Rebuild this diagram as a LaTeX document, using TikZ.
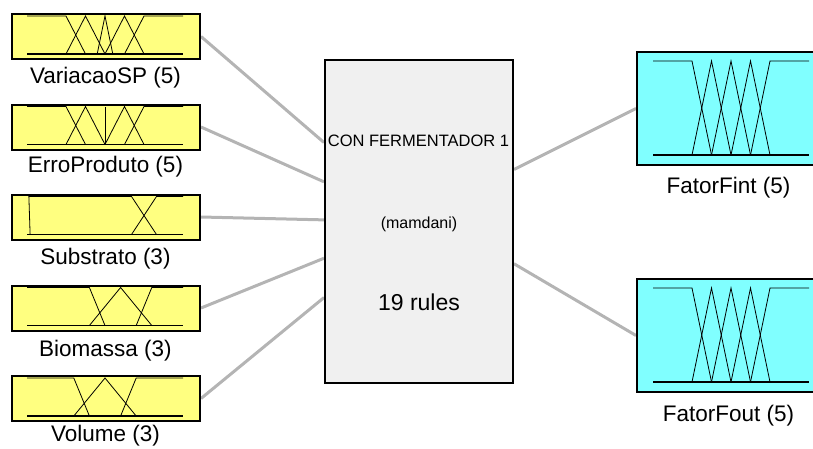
\documentclass[tikz,border=0pt]{standalone}
\usepackage{fontspec}
\setmainfont{Liberation Sans}
\usetikzlibrary{calc,backgrounds}
\definecolor{inyellow}{RGB}{255,255,128}
\definecolor{outcyan}{RGB}{128,255,255}
\definecolor{fisgray}{RGB}{240,240,240}
\definecolor{linkgray}{RGB}{180,180,180}
\tikzset{
  varbox/.style={draw=black, line width=2pt, inner sep=0pt,
                 minimum width=188pt, minimum height=45pt},
  inbox/.style={varbox, fill=inyellow},
  outbox/.style={varbox, fill=outcyan, minimum height=113pt},
  fisbox/.style={draw=black, line width=2pt, fill=fisgray, inner sep=0pt,
                 minimum width=188pt, minimum height=323pt},
  mf/.style={line width=0.8pt},
  mfbase/.style={line width=1.6pt},
  link/.style={draw=linkgray, line width=3pt},
  varlabel/.style={font=\fontsize{22.5}{24}\selectfont, anchor=base, inner sep=0pt},
  fistext/.style={anchor=base, inner sep=0pt},
}
\begin{document}
\begin{tikzpicture}[x=1pt, y=-1pt]
  \useasboundingbox (0,0) rectangle (813,448);
  \clip (0,0) rectangle (813,448);

  % input variables
  \node[inbox] (in1) at (106,36.5) {};
  \node[inbox] (in2) at (106,127) {};
  \node[inbox] (in3) at (106,217) {};
  \node[inbox] (in4) at (106,308) {};
  \node[inbox] (in5) at (106,398.5) {};

  % inference system
  \node[fisbox] (fis) at (419,221.5) {};

  % output variables (the right edge runs past the page)
  \node[outbox] (out1) at (731,108.5) {};
  \node[outbox] (out2) at (731,335.5) {};

  % attachment points on the rule block
  \coordinate (f1) at ($(fis.north west)!0.257!(fis.south west)$);
  \coordinate (f2) at ($(fis.north west)!0.378!(fis.south west)$);
  \coordinate (f3) at ($(fis.north west)!0.495!(fis.south west)$);
  \coordinate (f4) at ($(fis.north west)!0.613!(fis.south west)$);
  \coordinate (f5) at ($(fis.north west)!0.734!(fis.south west)$);
  \coordinate (g1) at ($(fis.north east)!0.34!(fis.south east)$);
  \coordinate (g2) at ($(fis.north east)!0.63!(fis.south east)$);

  \begin{scope}[on background layer]
    \draw[link] (in1.east) -- (f1);
    \draw[link] (in2.east) -- (f2);
    \draw[link] (in3.east) -- (f3);
    \draw[link] (in4.east) -- (f4);
    \draw[link] (in5.east) -- (f5);
    \draw[link] (g1) -- (out1.west);
    \draw[link] (g2) -- (out2.west);
  \end{scope}

  % VariacaoSP membership functions
  \begin{scope}[shift={($(in1.center)+(-79,17.5)$)}, x=156pt, y=38pt]
    \draw[mf] (0,1) -- (0.25,1) -- (0.375,0);
    \draw[mf] (0.25,0) -- (0.375,1) -- (0.5,0);
    \draw[mf] (0.45,0) -- (0.5,1) -- (0.55,0);
    \draw[mf] (0.5,0) -- (0.625,1) -- (0.75,0);
    \draw[mf] (0.625,0) -- (0.75,1) -- (1,1);
    \draw[mfbase] (0,0) -- (1,0);
  \end{scope}

  % ErroProduto membership functions
  \begin{scope}[shift={($(in2.center)+(-79,17.5)$)}, x=156pt, y=38pt]
    \draw[mf] (0,1) -- (0.25,1) -- (0.375,0);
    \draw[mf] (0.25,0) -- (0.375,1) -- (0.5,0);
    \draw[mf] (0.5,0) -- (0.5,1);
    \draw[mf] (0.5,0) -- (0.625,1) -- (0.75,0);
    \draw[mf] (0.625,0) -- (0.75,1) -- (1,1);
    \draw[mfbase] (0,0) -- (1,0);
  \end{scope}

  % Substrato membership functions
  \begin{scope}[shift={($(in3.center)+(-79,17.5)$)}, x=156pt, y=38pt]
    \draw[mf] (0.02,0) -- (0.012,1) -- (0.67,1) -- (0.83,0);
    \draw[mf] (0.67,0) -- (0.83,1) -- (1,1);
    \draw[mfbase] (0,0) -- (1,0);
  \end{scope}

  % Biomassa membership functions
  \begin{scope}[shift={($(in4.center)+(-79,17.5)$)}, x=156pt, y=38pt]
    \draw[mf] (0,1) -- (0.4,1) -- (0.5,0);
    \draw[mf] (0.4,0) -- (0.6,1) -- (0.8,0);
    \draw[mf] (0.7,0) -- (0.8,1) -- (1,1);
    \draw[mfbase] (0,0) -- (1,0);
  \end{scope}

  % Volume membership functions
  \begin{scope}[shift={($(in5.center)+(-79,17.5)$)}, x=156pt, y=38pt]
    \draw[mf] (0,1) -- (0.3,1) -- (0.4,0);
    \draw[mf] (0.3,0) -- (0.5,1) -- (0.7,0);
    \draw[mf] (0.6,0) -- (0.7,1) -- (1,1);
    \draw[mfbase] (0,0) -- (1,0);
  \end{scope}

  % FatorFint and FatorFout membership functions
  \foreach \o in {out1,out2}{
    \begin{scope}[shift={($(\o.center)+(-78,46.5)$)}, x=156pt, y=94pt]
      \draw[mf] (0,1) -- (0.25,1) -- (0.375,0);
      \draw[mf] (0.25,0) -- (0.375,1) -- (0.5,0);
      \draw[mf] (0.375,0) -- (0.5,1) -- (0.625,0);
      \draw[mf] (0.5,0) -- (0.625,1) -- (0.75,0);
      \draw[mf] (0.625,0) -- (0.75,1) -- (1,1);
      \draw[mfbase] (0,0) -- (1,0);
    \end{scope}
  }

  % variable names
  \node[varlabel] (l1) at (105.5,83) {VariacaoSP (5)};
  \node[varlabel] (l2) at (105.5,172) {ErroProduto (5)};
  \node[varlabel] (l3) at (105.5,264) {Substrato (3)};
  \node[varlabel] (l4) at (105.5,356) {Biomassa (3)};
  \node[varlabel] (l5) at (105.5,441.5) {Volume (3)};
  \node[varlabel] (l6) at (728.5,193) {FatorFint (5)};
  \node[varlabel] (l7) at (728.5,421) {FatorFout (5)};

  % rule block texts
  \node[fistext, font=\fontsize{16.5}{18}\selectfont] (t1) at (418.5,146.5) {CON FERMENTADOR 1};
  \node[fistext, font=\fontsize{16}{18}\selectfont] (t2) at (419,228) {(mamdani)};
  \node[fistext, font=\fontsize{23}{26}\selectfont] (t3) at (419,310) {19 rules};
\end{tikzpicture}
\end{document}
